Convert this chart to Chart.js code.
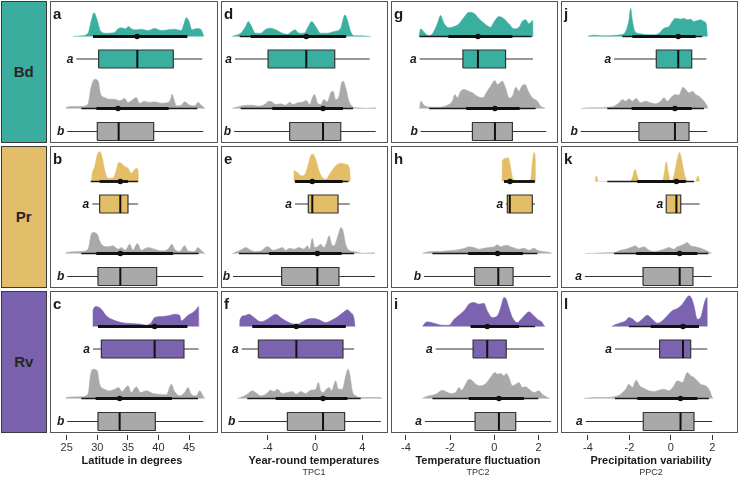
<!DOCTYPE html>
<html>
<head>
<meta charset="utf-8">
<script src="https://cdn.jsdelivr.net/npm/chart.js@4.4.1/dist/chart.umd.min.js"></script>
<style>
body{margin:0;background:#fff;width:740px;height:477px;overflow:hidden;position:relative;font-family:"Liberation Sans",Arial,sans-serif}
canvas{position:absolute}
.frame{position:absolute;box-sizing:border-box;border:1.2px solid #555;pointer-events:none}
.lab{position:absolute;box-sizing:border-box;border:1.2px solid #3a3a3a;display:flex;align-items:center;justify-content:center;font-weight:bold;font-size:15px;color:#262626}
.ttl{position:absolute;width:200px;text-align:center;font-weight:bold;font-size:11px;line-height:13px;color:#1a1a1a}
.sub{position:absolute;width:200px;text-align:center;font-size:9px;line-height:10px;color:#333}
</style>
</head>
<body>
<script>
// groups, axes
const groups = ['Bd', 'Pr', 'Rv'];
const axisTitles = ['Latitude in degrees', 'Year-round temperatures', 'Temperature fluctuation', 'Precipitation variability'];
const axisSubs = ['', 'TPC1', 'TPC2', 'PPC2'];
const ticksLat = [25, 30, 35, 40, 45];
const ticksTPC1 = [-4, 0, 4];
const ticksTPC2 = [-4, -2, 0, 2];
const ticksPPC2 = [-4, -2, 0, 2];

// densities: [x, density]; box: [whiskerLo, q1, median, q3, whiskerHi]; ci: [thinLo, thinHi, thickLo, thickHi, mean]
const aDens1 = [[26.1,0],[27.39,0.7],[28.48,3.3],[29.02,16],[29.46,23.7],[30.0,16],[30.55,5.3],[31.47,3.3],[32.83,4],[33.38,7.7],[33.92,8.7],[34.58,7.7],[35.12,10],[35.67,7.3],[36.37,6.7],[37.19,7.3],[38.28,6],[39.37,8],[40.46,6],[41.55,6.7],[42.64,7.3],[43.73,6],[44.16,12.7],[44.55,18.7],[44.98,15.3],[45.47,6.7],[46.18,8],[46.89,7.3],[47.27,2.7],[47.4,0]];
const aBox1 = [26.57, 30.22, 36.54, 42.42, 47.16];
const aCI1 = [29.3, 44.7, 29.3, 44.7, 36.5];
const aDens2 = [[24.8,0],[24.94,1],[25.75,2],[27.39,2],[28.48,4.3],[28.91,19.3],[29.57,29.3],[30.11,27.7],[30.55,14.3],[31.2,11],[32.02,9.3],[32.83,9.3],[33.65,7.7],[34.47,10],[35.01,6],[35.56,7.7],[36.37,11],[36.92,5.3],[37.74,7.3],[38.55,6],[39.37,6.7],[40.46,5.3],[41.55,6],[41.98,9.3],[42.2,14.3],[42.53,9.3],[42.91,2.7],[43.73,3.3],[44.27,6.7],[45.09,3.3],[45.91,2.7],[46.45,6],[47.0,3.3],[47.43,1],[47.6,0]];
const aBox2 = [25.1, 30.0, 33.49, 39.21, 47.32];
const aCI2 = [27.39, 46.34, 29.84, 41.66, 33.38];

const bDens1 = [[29.02,0],[29.13,6.7],[29.57,15],[30.0,26.7],[30.38,30],[30.76,25],[31.2,11.7],[31.74,3.3],[32.56,3.3],[33.11,11.7],[33.49,19],[33.92,18.3],[34.47,15],[35.01,13.3],[35.56,8.3],[35.99,11],[36.37,13.3],[36.65,11.7],[36.76,0]];
const bBox1 = [29.18, 30.38, 33.76, 35.01, 36.65];
const bCI1 = [28.91, 36.65, 30.38, 35.01, 33.76];
const bDens2 = [[24.8,0],[24.94,1],[27.39,2],[28.48,4.3],[29.02,19.3],[29.29,21],[30.0,19.3],[30.38,12.7],[30.93,7.7],[31.74,6.7],[32.56,7.7],[33.38,4.3],[33.92,6],[34.58,3.3],[35.29,9.3],[35.83,3.3],[36.54,10],[37.19,3.3],[38.28,6],[39.37,4.3],[40.46,2.7],[41.55,4.3],[42.2,9.3],[42.64,4.3],[43.46,2],[44.27,7.7],[44.82,2.7],[45.91,2],[46.45,6],[47.0,2.7],[47.43,0.7],[47.6,0]];
const bBox2 = [25.1, 30.11, 33.76, 39.7, 47.32];
const bCI2 = [27.39, 46.56, 29.84, 42.37, 33.76];

const cDens1 = [[29.28,0],[29.29,15.7],[29.84,20],[30.66,17.3],[31.47,10.7],[32.56,6.7],[33.92,4],[35.56,3],[37.19,2.3],[38.01,1.3],[38.83,4],[39.37,9],[40.46,10],[41.55,10.7],[42.64,12.3],[43.46,11.3],[43.73,5.7],[44.27,8],[44.82,11.3],[45.63,14],[46.18,17.3],[46.56,20],[46.6,0]];
const cBox1 = [29.29, 30.66, 39.37, 44.16, 46.56];
const cCI1 = [30.11, 44.71, 30.11, 44.71, 39.37];
const cDens2 = [[24.8,0],[24.94,1],[27.39,1.7],[28.48,4.3],[28.91,24.3],[29.29,29.3],[30.0,27.7],[30.38,14.3],[31.2,9.3],[32.02,7.7],[32.83,9.3],[33.49,11],[34.03,7],[35.01,12.7],[35.56,6],[36.37,11.7],[37.08,6],[38.01,7.7],[39.1,5],[40.19,4.3],[41.28,3.7],[42.09,14.3],[42.64,7],[43.46,2.7],[44.27,6],[44.82,11],[45.36,4.3],[46.18,2.7],[46.72,7.7],[47.43,1],[47.6,0]];
const cBox2 = [25.1, 30.11, 33.65, 39.48, 47.32];
const cCI2 = [27.39, 46.45, 29.73, 42.2, 33.65];

const dDens1 = [[-7.0,0],[-6.86,0.7],[-6.3,3.3],[-5.88,10],[-5.65,15],[-5.45,11.7],[-5.03,3.3],[-4.6,3.3],[-4.18,7.3],[-3.76,8.3],[-3.33,6.7],[-2.77,3.3],[-2.34,2.3],[-1.98,5],[-1.7,6.7],[-1.36,3.3],[-0.93,3.3],[-0.57,10],[-0.28,15],[0.06,10],[0.48,3.3],[1.05,3.3],[1.61,5],[2.18,8.3],[2.37,16.7],[2.54,21.7],[2.74,16.7],[3.02,5],[3.31,0.7],[4.01,0.7],[4.72,0]];
const dBox1 = [-6.78, -3.98, -0.74, 1.67, 4.63];
const dCI1 = [-6.38, 2.66, -5.45, 2.6, -0.74];
const dDens2 = [[-7.0,0],[-6.86,0.7],[-6.3,2.3],[-5.74,3.3],[-5.31,3.3],[-4.75,2.3],[-4.18,4.7],[-3.96,7.3],[-3.67,6.7],[-3.33,4],[-2.91,4.7],[-2.49,3.3],[-2.15,6.3],[-1.86,4],[-1.5,5.7],[-1.07,6.3],[-0.74,8],[-0.45,4],[-0.23,10.7],[-0.03,14],[0.2,5.7],[0.48,4],[0.76,9],[1.05,6.7],[1.33,15.7],[1.53,17.3],[1.75,9],[2.03,12.3],[2.26,25.7],[2.4,27.3],[2.6,20.7],[2.88,7.3],[3.16,2],[3.59,0.7],[4.29,0.3],[5.14,0.7],[5.2,0]];
const dBox2 = [-6.86, -2.15, 0.68, 2.18, 5.14];
const dCI2 = [-6.3, 3.22, -3.62, 2.37, 0.68];

const eDens1 = [[-1.79,0],[-1.78,10.7],[-1.5,9],[-1.13,5.7],[-0.85,7.3],[-0.57,17.3],[-0.37,25.7],[-0.17,27.3],[0.06,22.3],[0.34,10.7],[0.62,4],[0.9,2.3],[1.33,9],[1.75,15.7],[2.18,18.3],[2.6,17.3],[2.94,12.3],[2.99,0]];
const eBox1 = [-1.7, -0.57, -0.23, 1.95, 2.94];
const eCI1 = [-1.7, 2.83, -1.7, 2.32, -0.23];
const eDens2 = [[-7.01,0],[-6.58,2],[-6.16,4.3],[-5.88,6],[-5.45,3.3],[-5.03,2],[-4.46,3.3],[-4.12,6.7],[-3.84,6],[-3.62,3.3],[-3.19,4.3],[-2.77,6],[-2.49,3.3],[-2.15,5.3],[-1.78,4.3],[-1.36,6],[-0.93,4.3],[-0.65,7.7],[-0.45,4.3],[-0.23,15.3],[-0.03,6],[0.2,6.7],[0.48,9.3],[0.76,6],[0.96,10],[1.19,17.7],[1.41,9.3],[1.61,7.7],[1.98,19.3],[2.2,26],[2.37,22.7],[2.6,9.3],[2.88,3.3],[3.31,2],[4.01,0.3],[5.0,0.7],[5.1,0]];
const eBox2 = [-6.95, -2.83, 0.2, 2.03, 5.09];
const eCI2 = [-6.44, 3.31, -3.9, 2.26, 0.2];

const fDens1 = [[-6.39,0],[-6.38,5.7],[-6.02,10.7],[-5.59,12.3],[-5.17,9],[-4.6,4.7],[-4.04,7.3],[-3.62,10.7],[-3.33,12.3],[-2.91,9],[-2.49,5.7],[-2.06,3.3],[-1.5,2.3],[-1.07,4.7],[-0.65,7.3],[-0.09,8],[0.34,6.7],[0.9,4],[1.47,6.7],[2.03,10.7],[2.46,14.7],[2.74,16.7],[3.02,14],[3.31,8],[3.39,0]];
const fBox1 = [-6.21, -4.8, -1.58, 2.37, 3.31];
const fCI1 = [-5.31, 2.6, -5.31, 2.6, -1.58];
const fDens2 = [[-6.58,0],[-6.16,1.7],[-5.74,4.3],[-5.31,7.7],[-5.03,6],[-4.6,2.7],[-4.18,4.3],[-3.76,8.3],[-3.47,7],[-3.19,9.3],[-2.77,5],[-2.34,6],[-1.92,7],[-1.58,4.3],[-1.22,7],[-0.79,5],[-0.37,8.3],[0.06,9.3],[0.28,16],[0.48,7.7],[0.68,6],[0.96,9.3],[1.19,11],[1.41,7.7],[1.75,17.7],[1.98,9.3],[2.32,9.3],[2.6,22.7],[2.8,29.3],[2.97,22.7],[3.16,7.7],[3.45,2.7],[4.01,1],[5.57,1],[5.65,0]];
const fBox2 = [-6.5, -2.34, 0.68, 2.51, 5.57];
const fCI2 = [-5.74, 3.87, -3.33, 2.74, 0.68];

const gDens1 = [[-3.41,0],[-3.33,7.7],[-3.18,4.3],[-2.98,1],[-2.8,2.7],[-2.58,12.7],[-2.43,21],[-2.28,13.3],[-2.05,8.7],[-1.82,10],[-1.6,12.7],[-1.37,19.3],[-1.15,24.3],[-0.92,23.3],[-0.69,17.7],[-0.39,12],[-0.17,9.3],[-0.02,14.3],[0.21,20],[0.44,17.7],[0.66,12.7],[0.89,7.7],[1.12,9.3],[1.27,15.3],[1.42,16.7],[1.57,12.7],[1.74,16],[1.75,0]];
const gBox1 = [-3.38, -1.42, -0.74, 0.51, 1.75];
const gCI1 = [-3.38, 1.69, -2.08, 0.82, -0.74];
const gDens2 = [[-3.42,0],[-3.38,0.7],[-3.33,7.3],[-3.18,3.3],[-2.88,1.3],[-2.5,1.3],[-2.13,3.3],[-1.9,7.3],[-1.78,14],[-1.67,10.7],[-1.52,17.3],[-1.37,19],[-1.15,17.3],[-0.99,15.7],[-0.77,12.3],[-0.54,10.7],[-0.32,17.3],[-0.17,22.3],[0.03,28],[0.14,24],[0.36,27.3],[0.51,20.7],[0.66,10.7],[0.82,12.3],[0.97,21.3],[1.12,17.3],[1.24,22.3],[1.39,24],[1.54,17.3],[1.72,10.7],[1.95,7.3],[2.1,2.3],[2.25,0.7],[2.3,0]];
const gBox2 = [-3.33, -0.99, 0.03, 0.82, 2.35];
const gCI2 = [-2.95, 1.87, -1.27, 1.15, 0.03];

const hDens1 = [[0.35,0],[0.36,20.7],[0.51,23],[0.63,24],[0.74,14],[0.85,2.3],[1.27,0],[1.65,2.3],[1.72,19],[1.8,29],[1.86,22.3],[1.87,0]];
const hBox1 = [0.54, 0.59, 0.7, 1.72, 1.83];
const hCI1 = [0.44, 1.83, 0.44, 1.83, 0.71];
const hDens2 = [[-3.25,0],[-3.18,0.7],[-2.8,2],[-2.5,2],[-2.13,2.7],[-1.75,3.3],[-1.52,4.3],[-1.33,5.3],[-1.15,6.7],[-0.92,6],[-0.69,4.3],[-0.47,5.3],[-0.24,6],[-0.01,6.7],[0.14,8.7],[0.29,6.7],[0.44,7.7],[0.59,8.3],[0.74,6.7],[0.94,5.3],[1.12,4.3],[1.34,5.3],[1.57,3.3],[1.8,5.3],[1.95,3.3],[2.17,2],[2.55,0.7],[2.6,0]];
const hBox2 = [-3.18, -0.89, 0.18, 0.85, 2.55];
const hCI2 = [-2.8, 1.95, -1.18, 1.3, 0.15];

const iDens1 = [[-3.25,0],[-3.18,2.3],[-3.03,4.7],[-2.73,3.3],[-2.35,1.3],[-2.05,1.3],[-1.82,7.3],[-1.6,11.3],[-1.37,15.7],[-1.15,22.3],[-0.92,24],[-0.69,22.3],[-0.47,23.3],[-0.32,15.7],[-0.09,9],[0.14,10.7],[0.29,19],[0.44,29],[0.54,27.3],[0.66,19],[0.82,9],[1.04,4],[1.24,8],[1.42,12.3],[1.57,14.7],[1.72,12.3],[1.95,7.3],[2.17,4],[2.25,0.7],[2.3,0]];
const iBox1 = [-2.65, -0.96, -0.32, 0.54, 2.25];
const iCI1 = [-1.07, 1.84, -1.07, 1.12, -0.32];
const iDens2 = [[-3.25,0],[-3.18,1],[-2.96,2.7],[-2.65,4.3],[-2.35,8.3],[-2.2,7],[-1.97,5],[-1.75,6],[-1.6,11],[-1.48,8.3],[-1.3,14.3],[-1.15,19.3],[-0.99,17.7],[-0.84,14.3],[-0.62,12.7],[-0.39,15],[-0.17,21],[0.03,26],[0.14,24.3],[0.29,25],[0.44,22.7],[0.54,25],[0.66,21],[0.82,12.7],[0.97,14.3],[1.12,16],[1.27,11],[1.42,11.7],[1.57,9.3],[1.8,6],[2.02,7.7],[2.17,4.3],[2.48,0.3],[2.52,0]];
const iBox2 = [-3.14, -0.87, 0.21, 0.97, 2.57];
const iCI2 = [-2.8, 1.99, -1.15, 1.34, 0.21];

const jDens1 = [[-4.0,0],[-3.95,0.7],[-3.63,1.3],[-3.31,0.7],[-2.99,0.7],[-2.66,1.3],[-2.42,1.7],[-2.18,5],[-2.02,16.7],[-1.94,28.3],[-1.86,16.7],[-1.73,5],[-1.46,2.7],[-1.14,1.7],[-0.81,1.7],[-0.57,3.3],[-0.33,8.3],[-0.09,10],[0.07,15],[0.23,18.3],[0.47,17.3],[0.64,18.3],[0.8,16.7],[0.96,17.3],[1.12,15],[1.28,16],[1.44,16.7],[1.6,15],[1.72,12],[1.77,0]];
const jBox1 = [-2.74, -0.7, 0.36, 1.01, 1.72];
const jCI1 = [-2.34, 1.52, -1.86, 1.2, 0.36];
const jDens2 = [[-4.35,0],[-3.95,0.7],[-3.47,0.7],[-3.07,1.3],[-2.74,2.3],[-2.5,5.7],[-2.34,9],[-2.18,7.3],[-2.02,9.7],[-1.86,7.3],[-1.67,10],[-1.46,5.7],[-1.22,7.3],[-0.97,5.7],[-0.73,4.7],[-0.49,7.3],[-0.33,10.7],[-0.17,7.3],[0.07,12.3],[0.23,14],[0.39,13.3],[0.59,21.3],[0.72,19],[0.88,15.7],[1.04,17.3],[1.2,14],[1.36,12.3],[1.6,7.3],[1.76,2.3],[1.79,0]];
const jBox2 = [-4.35, -1.54, 0.2, 0.88, 1.76];
const jCI2 = [-3.07, 1.6, -1.89, 1.01, 0.2];

const kDens1 = [[-3.66,0],[-3.6,5.7],[-3.5,0],[-1.94,0],[-1.83,5.7],[-1.73,12.3],[-1.62,5.7],[-1.5,0],[-0.41,0],[-0.31,9],[-0.22,19.7],[-0.12,9],[-0.01,0],[0.15,5.7],[0.31,22.3],[0.43,29],[0.52,22.3],[0.68,5.7],[0.88,0],[1.2,0],[1.31,5.7],[1.39,0]];
const kBox1 = [-0.22, -0.22, 0.27, 0.48, 1.39];
const kCI1 = [-3.07, 1.12, -1.62, 0.72, 0.27];
const kDens2 = [[-4.11,0],[-3.63,0.3],[-3.15,0.7],[-2.74,1],[-2.42,3.3],[-2.18,4.3],[-1.94,6],[-1.7,7.7],[-1.54,5.3],[-1.3,6.7],[-1.05,3.3],[-0.81,2],[-0.57,2.7],[-0.33,4.3],[-0.09,6],[0.15,4.3],[0.31,6.7],[0.47,7.7],[0.64,9.3],[0.8,11],[0.96,7.7],[1.2,6.7],[1.44,5.3],[1.68,3.3],[1.97,0]];
const kBox2 = [-4.15, -1.34, 0.43, 1.07, 1.97];
const kCI2 = [-2.74, 1.81, -1.67, 1.28, 0.43];

const lDens1 = [[-2.85,0],[-2.74,1.3],[-2.5,3.3],[-2.18,5.7],[-2.02,9],[-1.83,7.3],[-1.62,4],[-1.38,7.3],[-1.14,11.3],[-0.89,7.3],[-0.65,3.3],[-0.41,5.7],[-0.17,10.7],[0.07,15.7],[0.31,18],[0.56,22.3],[0.72,27.3],[0.88,30.7],[1.01,28],[1.12,20.7],[1.28,7.3],[1.44,9],[1.55,17.3],[1.65,25.7],[1.76,29],[1.77,0]];
const lBox1 = [-2.7, -0.54, 0.59, 0.96, 1.76];
const lCI1 = [-2.02, 1.36, -0.97, 1.36, 0.59];
const lDens2 = [[-4.2,0],[-4.11,0.3],[-3.63,1],[-3.15,1],[-2.74,1.7],[-2.42,4.3],[-2.18,9.3],[-2.02,14.3],[-1.86,11],[-1.67,18.3],[-1.5,12.7],[-1.3,10.3],[-1.05,7.7],[-0.81,7],[-0.57,8.3],[-0.33,9.3],[-0.09,7.7],[0.15,12.7],[0.31,17.7],[0.56,16],[0.8,26],[0.96,22.7],[1.12,21],[1.28,17.7],[1.44,14.3],[1.68,12.7],[1.88,7.7],[2.0,1],[2.05,0]];
const lBox2 = [-4.11, -1.33, 0.47, 1.12, 2.0];
const lCI2 = [-2.7, 1.84, -1.62, 1.28, 0.47];

// layout
const colLeft = [48, 219, 389, 559];
const colWidth = [171, 170, 170, 180];
const rowTop = [0, 145, 290];
const rowH = 145;
const xMin = [21.94, -8.136, -4.765, -5.401];
const xMax = [49.89, 6.27, 2.928, 3.295];
const colTicks = [ticksLat, ticksTPC1, ticksTPC2, ticksPPC2];
const titleCenter = [132, 314, 478, 651];
const rowColors = ['#3aaf9f', '#e3be66', '#7c63b0'];
const labelColors = ['#3aad9f', '#e2be6a', '#7b62ae'];
const grey = '#a9a9a9';
const FONT = '"Liberation Sans", Arial, sans-serif';

const panels = [
    {id: 'a', r: 0, c: 0, top: [aDens1, aBox1, aCI1, 'a'], bot: [aDens2, aBox2, aCI2, 'b']},
    {id: 'b', r: 1, c: 0, top: [bDens1, bBox1, bCI1, 'a'], bot: [bDens2, bBox2, bCI2, 'b']},
    {id: 'c', r: 2, c: 0, top: [cDens1, cBox1, cCI1, 'a'], bot: [cDens2, cBox2, cCI2, 'b']},
    {id: 'd', r: 0, c: 1, top: [dDens1, dBox1, dCI1, 'a'], bot: [dDens2, dBox2, dCI2, 'b']},
    {id: 'e', r: 1, c: 1, top: [eDens1, eBox1, eCI1, 'a'], bot: [eDens2, eBox2, eCI2, 'b']},
    {id: 'f', r: 2, c: 1, top: [fDens1, fBox1, fCI1, 'a'], bot: [fDens2, fBox2, fCI2, 'b']},
    {id: 'g', r: 0, c: 2, top: [gDens1, gBox1, gCI1, 'a'], bot: [gDens2, gBox2, gCI2, 'b']},
    {id: 'h', r: 1, c: 2, top: [hDens1, hBox1, hCI1, 'a'], bot: [hDens2, hBox2, hCI2, 'b']},
    {id: 'i', r: 2, c: 2, top: [iDens1, iBox1, iCI1, 'a'], bot: [iDens2, iBox2, iCI2, 'a']},
    {id: 'j', r: 0, c: 3, top: [jDens1, jBox1, jCI1, 'a'], bot: [jDens2, jBox2, jCI2, 'b']},
    {id: 'k', r: 1, c: 3, top: [kDens1, kBox1, kCI1, 'a'], bot: [kDens2, kBox2, kCI2, 'a']},
    {id: 'l', r: 2, c: 3, top: [lDens1, lBox1, lCI1, 'a'], bot: [lDens2, lBox2, lCI2, 'a']}
];

// y positions (px from panel top) of density baselines and box centres
const dens1Off = 36.5, box1Off = 59, dens2Off = 108.5, box2Off = 131.5, halfBox = 9;

function seg(x1, y1, x2, y2, w, col, order) {
    return {type: 'line', data: [{x: x1, y: y1}, {x: x2, y: y2}], borderColor: col, borderWidth: w,
        pointRadius: 0, fill: false, order: order, borderCapStyle: 'butt'};
}

function distSets(dist, yBase, yBox, color) {
    const dens = dist[0], box = dist[1], ci = dist[2];
    return [
        {type: 'line', data: dens.map(p => ({x: p[0], y: yBase + p[1]})), fill: {value: yBase},
            backgroundColor: color, borderColor: color, borderWidth: 0.5, pointRadius: 0,
            cubicInterpolationMode: 'monotone', order: 10},
        seg(box[0], yBox, box[4], yBox, 1.2, '#333', 8),
        {type: 'line', data: [{x: box[1], y: yBox + halfBox}, {x: box[3], y: yBox + halfBox}],
            fill: {value: yBox - halfBox}, backgroundColor: color, borderWidth: 0, pointRadius: 0, order: 6},
        {type: 'line', data: [{x: box[1], y: yBox - halfBox}, {x: box[3], y: yBox - halfBox},
            {x: box[3], y: yBox + halfBox}, {x: box[1], y: yBox + halfBox}, {x: box[1], y: yBox - halfBox}],
            borderColor: '#333', borderWidth: 1.2, pointRadius: 0, fill: false, order: 5},
        seg(box[2], yBox - halfBox, box[2], yBox + halfBox, 2, '#111', 4),
        seg(ci[0], yBase, ci[1], yBase, 1.3, '#1a1a1a', 3),
        seg(ci[2], yBase, ci[3], yBase, 2.8, '#111', 2),
        {type: 'line', data: [{x: ci[4], y: yBase}], showLine: false, pointRadius: 2.8,
            pointBackgroundColor: '#111', pointBorderWidth: 0, order: 1}
    ];
}

const panelText = {
    id: 'panelText',
    afterDatasetsDraw(chart, args, opts) {
        const ctx = chart.ctx, xs = chart.scales.x, ys = chart.scales.y;
        ctx.save();
        ctx.fillStyle = '#1a1a1a';
        ctx.font = 'bold 15px ' + FONT;
        ctx.textAlign = 'left';
        ctx.textBaseline = 'alphabetic';
        ctx.fillText(opts.letter, chart.chartArea.left + 5, chart.chartArea.top + 19);
        ctx.font = 'italic bold 12px ' + FONT;
        ctx.textAlign = 'right';
        ctx.textBaseline = 'middle';
        opts.marks.forEach(m => ctx.fillText(m.text, xs.getPixelForValue(m.x) - 3, ys.getPixelForValue(m.y) + 0.5));
        ctx.restore();
    }
};

// row labels
groups.forEach((g, r) => {
    const d = document.createElement('div');
    d.className = 'lab';
    d.textContent = g;
    Object.assign(d.style, {left: '0.5px', top: (rowTop[r] + 0.5) + 'px', width: '46.5px', height: (rowH - 2.5) + 'px', background: labelColors[r]});
    document.body.appendChild(d);
});

panels.forEach(p => {
    const bottomRow = p.r === 2;
    const cv = document.createElement('canvas');
    cv.width = colWidth[p.c];
    cv.height = rowH + (bottomRow ? 26 : 0);
    cv.style.left = colLeft[p.c] + 'px';
    cv.style.top = rowTop[p.r] + 'px';
    document.body.appendChild(cv);

    const yD1 = rowH - dens1Off, yB1 = rowH - box1Off, yD2 = rowH - dens2Off, yB2 = rowH - box2Off;
    const datasets = distSets(p.top, yD1, yB1, rowColors[p.r]).concat(distSets(p.bot, yD2, yB2, grey));

    const xScale = {
        type: 'linear', min: xMin[p.c], max: xMax[p.c], display: bottomRow,
        afterBuildTicks: s => { s.ticks = colTicks[p.c].map(v => ({value: v})); },
        grid: {drawOnChartArea: false, drawTicks: true, tickLength: 5, color: '#333', lineWidth: 1},
        border: {display: false},
        ticks: {font: {size: 11, family: FONT}, color: '#333', padding: 1, maxRotation: 0, autoSkip: false}
    };
    if (bottomRow) xScale.afterFit = s => { s.height = 26; };

    new Chart(cv, {
        type: 'line',
        data: {datasets: datasets},
        plugins: [panelText],
        options: {
            responsive: false,
            animation: false,
            events: [],
            layout: {padding: 0, autoPadding: false},
            plugins: {
                legend: {display: false},
                tooltip: {enabled: false},
                panelText: {letter: p.id, marks: [
                    {text: p.top[3], x: p.top[1][0], y: yB1},
                    {text: p.bot[3], x: p.bot[1][0], y: yB2}
                ]}
            },
            scales: {
                x: xScale,
                y: {type: 'linear', min: 0, max: rowH, display: false}
            }
        }
    });

    const f = document.createElement('div');
    f.className = 'frame';
    Object.assign(f.style, {left: (colLeft[p.c] + 1.5) + 'px', top: (rowTop[p.r] + 0.5) + 'px',
        width: (colWidth[p.c] - 3) + 'px', height: (rowH - 2.5) + 'px'});
    document.body.appendChild(f);
});

axisTitles.forEach((t, c) => {
    const d = document.createElement('div');
    d.className = 'ttl';
    d.textContent = t;
    Object.assign(d.style, {left: (titleCenter[c] - 100) + 'px', top: '454px'});
    document.body.appendChild(d);
    if (axisSubs[c]) {
        const s = document.createElement('div');
        s.className = 'sub';
        s.textContent = axisSubs[c];
        Object.assign(s.style, {left: (titleCenter[c] - 100) + 'px', top: '467px'});
        document.body.appendChild(s);
    }
});
</script>
</body>
</html>
